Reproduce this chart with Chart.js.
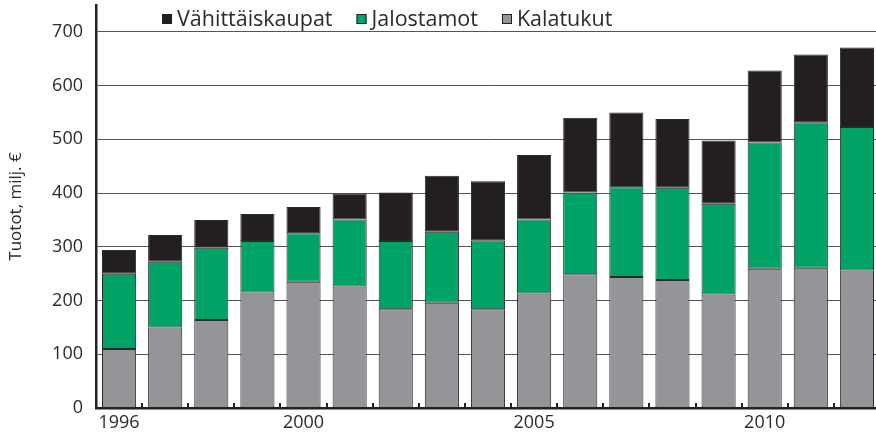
<!DOCTYPE html>
<html>
<head>
<meta charset="utf-8">
<script src="https://cdn.jsdelivr.net/npm/chart.js@4/dist/chart.umd.min.js"></script>
<style>
  html, body { margin: 0; padding: 0; background: #fff; overflow: hidden; }
  #wrap { width: 880px; height: 438px; }
</style>
</head>
<body>
<div id="wrap"><canvas id="myChart" width="880" height="438"></canvas></div>
<script>
// Years on the x axis
const years = ['1996', '1997', '1998', '1999', '2000', '2001', '2002', '2003', '2004',
  '2005', '2006', '2007', '2008', '2009', '2010', '2011', '2012'];
// Only these get a label
const shownYears = ['1996', '2000', '2005', '2010'];

// Series values, milj. €
const kalatukut = [110, 150, 164, 215, 235, 226, 184, 196, 184, 213, 249, 244, 238, 211, 259, 261, 256];
const jalostamot = [140, 122, 134, 96, 90, 125, 127, 132, 128, 138, 152, 167, 172, 169, 235, 271, 267];
const vahittaiskaupat = [44, 50, 52, 50, 49, 48, 90, 104, 110, 120, 139, 139, 128, 118, 134, 126, 148];

const yTicks = [0, 100, 200, 300, 400, 500, 600, 700];

const fontFamily = '"Open Sans", "DejaVu Sans", sans-serif';
const textColor = '#2b2b2b';

// Small inward tick marks between the bars on the x axis
const betweenTicks = {
  id: 'betweenTicks',
  afterDatasetsDraw(chart) {
    const x = chart.scales.x;
    const bottom = chart.chartArea.bottom;
    const ctx = chart.ctx;
    ctx.save();
    ctx.strokeStyle = '#222';
    ctx.lineWidth = 2;
    for (let i = 1; i < years.length; i++) {
      const px = Math.round((x.getPixelForTick(i - 1) + x.getPixelForTick(i)) / 2);
      ctx.beginPath();
      ctx.moveTo(px, bottom);
      ctx.lineTo(px, bottom - 5);
      ctx.stroke();
    }
    ctx.restore();
  }
};

// Legend drawn inside the plot, above the 700 line
const innerLegend = {
  id: 'innerLegend',
  afterDraw(chart) {
    const ctx = chart.ctx;
    const items = chart.data.datasets.slice().reverse();
    let x = 162;
    const y = 19;
    ctx.save();
    ctx.font = '21.5px ' + fontFamily;
    ctx.textBaseline = 'middle';
    items.forEach(ds => {
      ctx.fillStyle = ds.backgroundColor;
      ctx.fillRect(x, y - 5, 10, 10);
      ctx.strokeStyle = '#222';
      ctx.lineWidth = 1;
      ctx.strokeRect(x + 0.5, y - 4.5, 9, 9);
      ctx.fillStyle = textColor;
      ctx.fillText(ds.label, x + 15, y + 1);
      x += 15 + ctx.measureText(ds.label).width + 24;
    });
    ctx.restore();
  }
};

const ctx = document.getElementById('myChart').getContext('2d');

new Chart(ctx, {
  type: 'bar',
  data: {
    labels: years,
    datasets: [
      { label: 'Kalatukut', data: kalatukut, backgroundColor: '#939598' },
      { label: 'Jalostamot', data: jalostamot, backgroundColor: '#00a266' },
      { label: 'Vähittäiskaupat', data: vahittaiskaupat, backgroundColor: '#231f20' }
    ]
  },
  options: {
    responsive: false,
    animation: false,
    layout: { padding: { top: 5, right: 0, bottom: 0, left: 0 } },
    datasets: {
      bar: {
        borderColor: '#2a2a2a',
        borderWidth: 1,
        borderSkipped: false,
        barPercentage: 0.74,
        categoryPercentage: 1
      }
    },
    plugins: {
      legend: { display: false },
      tooltip: { enabled: false }
    },
    scales: {
      x: {
        stacked: true,
        afterFit: s => { s.height = 30; },
        grid: { display: false, drawTicks: false },
        border: { display: true, color: '#222', width: 2.5 },
        ticks: {
          autoSkip: false,
          maxRotation: 0,
          padding: 4,
          color: textColor,
          font: { family: fontFamily, size: 18 },
          callback: function (value) {
            const label = this.getLabelForValue(value);
            return shownYears.includes(label) ? label : '';
          }
        }
      },
      y: {
        stacked: true,
        min: 0,
        max: 750,
        afterFit: s => { s.width = 96; s.paddingTop = 0; s.paddingBottom = 0; },
        afterBuildTicks: s => { s.ticks = yTicks.map(v => ({ value: v })); },
        grid: { color: '#555', lineWidth: 1, drawTicks: false },
        border: { display: true, color: '#222', width: 2.5 },
        ticks: {
          padding: 13,
          color: textColor,
          font: { family: fontFamily, size: 18 }
        },
        title: {
          display: true,
          text: 'Tuotot, milj. €',
          color: textColor,
          font: { family: fontFamily, size: 17 },
          padding: { top: 6, bottom: 0 }
        }
      }
    }
  },
  plugins: [betweenTicks, innerLegend]
});
</script>
</body>
</html>
